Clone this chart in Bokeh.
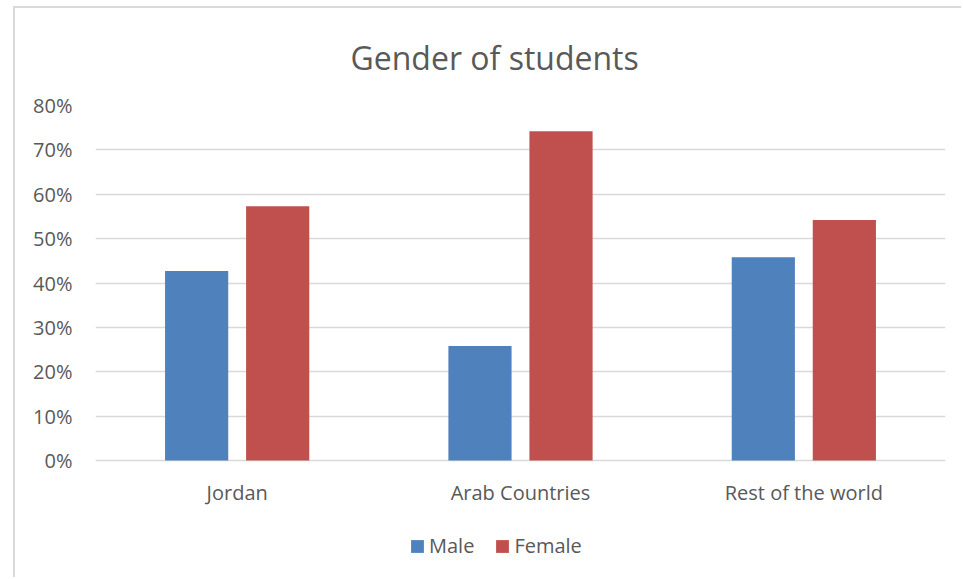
from bokeh.plotting import figure
from bokeh.models import (FactorRange, FixedTicker, NumeralTickFormatter,
                          Legend, LegendItem, ColumnDataSource)
from bokeh.core.properties import value
from bokeh.transform import dodge
from bokeh.embed import file_html
from bokeh.resources import INLINE

# Share of students by gender in each region
regions = ["Jordan", "Arab Countries", "Rest of the world"]
male = [0.427, 0.258, 0.458]
female = [0.573, 0.742, 0.542]
y_ticks = [0.0, 0.1, 0.2, 0.3, 0.4, 0.5, 0.6, 0.7, 0.8]

MALE_COLOR = "#4f81bd"
FEMALE_COLOR = "#c0504d"
TEXT_COLOR = "#595959"
GRID_COLOR = "#d9d9d9"
FONT = "Open Sans"

# plot area: 0..80% spans 355 px; the frame runs on below zero to hold
# the category labels and the legend
PX_PER_UNIT = 355 / 0.8
Y_MIN = -119 / PX_PER_UNIT
LABEL_Y = -32 / PX_PER_UNIT

source = ColumnDataSource(data=dict(region=regions, male=male, female=female,
                                    label_y=[LABEL_Y] * len(regions)))

p = figure(
    x_range=FactorRange(*regions, range_padding=0),
    y_range=(Y_MIN, 0.8),
    width=948, height=571,
    output_backend="svg", toolbar_location=None,
    min_border_left=80, min_border_right=18,
    min_border_top=97, min_border_bottom=0,
)
# outer chart border (top and left edges visible)
p.margin = (6, 0, 0, 13)
p.styles = {"border-top": "2px solid #d9d9d9", "border-left": "2px solid #d9d9d9"}

p.outline_line_color = None
p.background_fill_color = "white"
p.border_fill_color = "white"

p.title.text = "Gender of students"
p.title.align = "left"
p.title.vertical_align = "top"
p.title.offset = 255
p.title.standoff = 49
p.title.text_font = FONT
p.title.text_font_size = "32px"
p.title.text_font_style = "normal"
p.title.text_color = TEXT_COLOR

bar_w = 0.223
r_male = p.vbar(x=dodge("region", -0.143, range=p.x_range), top="male", width=bar_w,
                source=source, fill_color=MALE_COLOR, line_color=None)
r_female = p.vbar(x=dodge("region", 0.143, range=p.x_range), top="female", width=bar_w,
                  source=source, fill_color=FEMALE_COLOR, line_color=None)

# category labels under the baseline
p.text(x="region", y="label_y", text="region", source=source,
       text_align="center", text_baseline="middle",
       text_font=value(FONT), text_font_size="20px", text_color=TEXT_COLOR)

# y axis: percentage labels only, horizontal grid lines
p.yaxis.ticker = FixedTicker(ticks=y_ticks)
p.yaxis.formatter = NumeralTickFormatter(format="0%")
p.yaxis.axis_line_color = None
p.yaxis.major_tick_line_color = None
p.yaxis.minor_tick_line_color = None
p.yaxis.major_tick_in = 0
p.yaxis.major_tick_out = 0
p.yaxis.major_label_standoff = 23
p.yaxis.major_label_text_font = FONT
p.yaxis.major_label_text_font_size = "20px"
p.yaxis.major_label_text_color = TEXT_COLOR

p.ygrid.ticker = FixedTicker(ticks=y_ticks)
p.ygrid.grid_line_color = GRID_COLOR
p.ygrid.grid_line_width = 1.5
p.xgrid.grid_line_color = None
p.xaxis.visible = False

legend = Legend(
    items=[LegendItem(label="Male", renderers=[r_male]),
           LegendItem(label="Female", renderers=[r_female])],
    orientation="horizontal",
    location=(314, 20),
    padding=0, margin=0, spacing=20,
    glyph_width=16, glyph_height=16, label_standoff=4,
    label_text_font=FONT, label_text_font_size="20px",
    label_text_color=TEXT_COLOR,
    border_line_color=None, background_fill_alpha=0,
)
p.add_layout(legend, "center")

open("out.html", "w").write(file_html(p, INLINE))
